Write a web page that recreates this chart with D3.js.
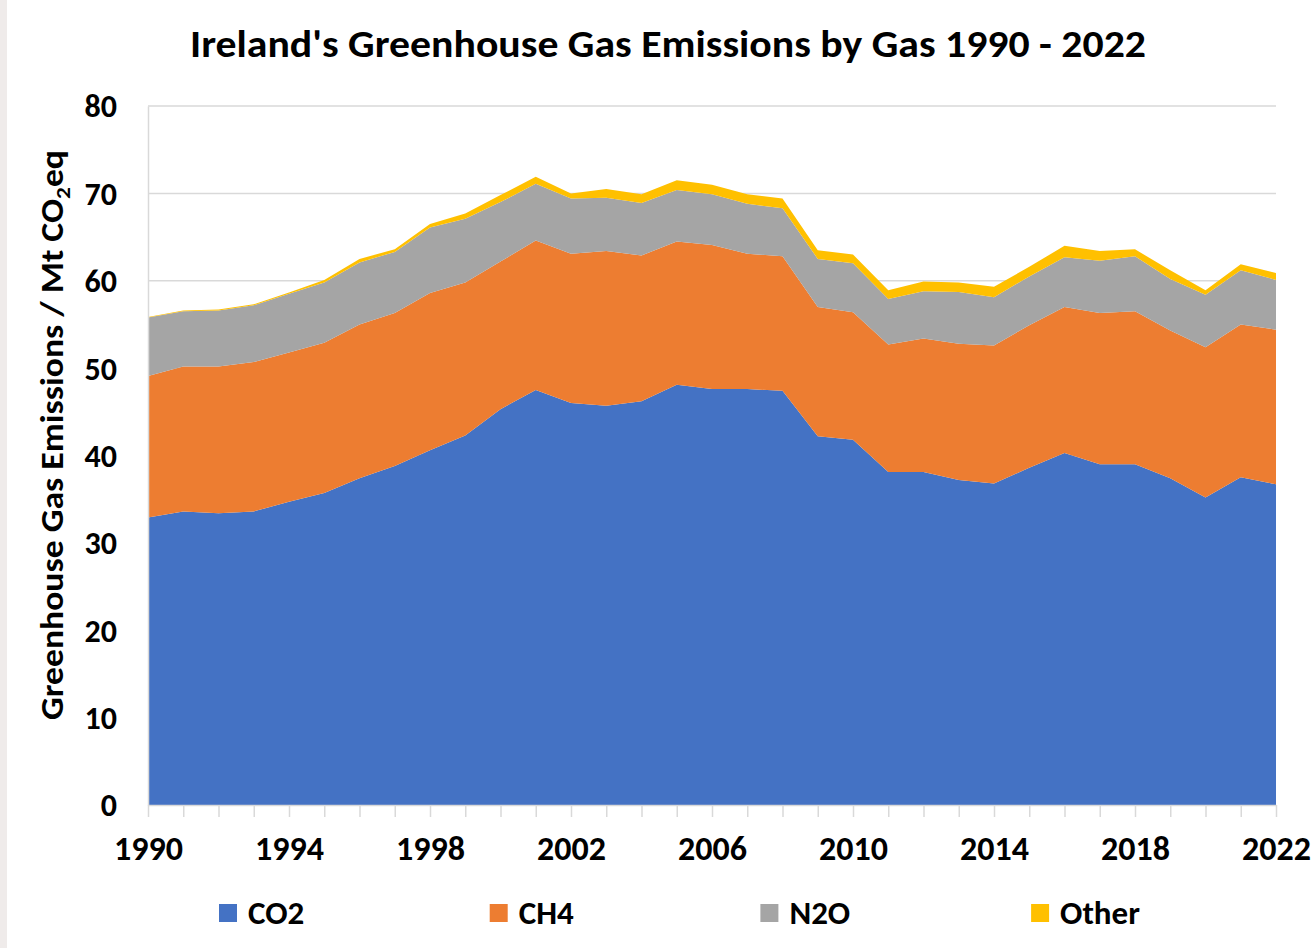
<!DOCTYPE html>
<html>
<head>
<meta charset="utf-8">
<script src="https://cdn.jsdelivr.net/npm/d3@7"></script>
<style>
  body { margin: 0; background: #fff; }
  text { font-family: Carlito, "Open Sans", sans-serif; font-weight: bold; fill: #000; }
</style>
</head>
<body>
<svg id="chart" width="1316" height="948"></svg>
<script>
// data (Mt CO2eq)
var YEARS = [1990, 1991, 1992, 1993, 1994, 1995, 1996, 1997, 1998, 1999, 2000,
    2001, 2002, 2003, 2004, 2005, 2006, 2007, 2008, 2009, 2010, 2011,
    2012, 2013, 2014, 2015, 2016, 2017, 2018, 2019, 2020, 2021, 2022];
var GASES = ["CO2", "CH4", "N2O", "Other"];
var CO2 = [32.9, 33.6, 33.4, 33.6, 34.7, 35.7, 37.4, 38.8, 40.6, 42.3, 45.3,
    47.5, 46.0, 45.7, 46.2, 48.1, 47.6, 47.6, 47.4, 42.2, 41.8, 38.1,
    38.1, 37.2, 36.8, 38.6, 40.3, 39.0, 39.0, 37.4, 35.2, 37.5, 36.7];
var CH4 = [16.2, 16.6, 16.8, 17.1, 17.1, 17.2, 17.6, 17.5, 18.0, 17.5, 16.9,
    17.1, 17.1, 17.7, 16.7, 16.4, 16.5, 15.5, 15.4, 14.8, 14.6, 14.6,
    15.3, 15.6, 15.8, 16.3, 16.7, 17.3, 17.5, 16.9, 17.2, 17.5, 17.7];
var N2O = [6.7, 6.3, 6.4, 6.5, 6.7, 6.9, 7.1, 7.0, 7.5, 7.3, 6.8,
    6.5, 6.3, 6.1, 6.0, 5.9, 5.8, 5.7, 5.5, 5.5, 5.6, 5.2,
    5.4, 5.9, 5.5, 5.6, 5.7, 6.0, 6.3, 5.9, 6.0, 6.2, 5.7];
var OTHER = [0.05, 0.1, 0.1, 0.1, 0.15, 0.3, 0.4, 0.3, 0.4, 0.6, 0.8,
    0.8, 0.6, 1.0, 1.0, 1.1, 1.1, 1.1, 1.1, 1.0, 1.0, 1.0,
    1.1, 1.1, 1.2, 1.1, 1.3, 1.1, 0.8, 1.0, 0.5, 0.7, 0.8];
var Y_TICKS = [0, 10, 20, 30, 40, 50, 60, 70, 80];
var X_LABELS = [1990, 1994, 1998, 2002, 2006, 2010, 2014, 2018, 2022];
var COLORS = ["#4472c4", "#ed7d31", "#a5a5a5", "#ffc000"];

var PLOT = { left: 148, right: 1276, top: 106, bottom: 805 };
var GRID_COLOR = "#d9d9d9";
var FONT = "Carlito, 'Open Sans', sans-serif";

var svg = d3.select("#chart");

// thin frame strip on the left edge
svg.append("rect")
    .attr("x", 0).attr("y", 0)
    .attr("width", 7).attr("height", 948)
    .attr("fill", "#efebea");

var xScale = d3.scaleLinear()
    .domain([1990, 2022])
    .range([PLOT.left, PLOT.right]);

var yScale = d3.scaleLinear()
    .domain([0, 80])
    .range([PLOT.bottom, PLOT.top]);

var rows = YEARS.map((y, i) => ({
    year: y, CO2: CO2[i], CH4: CH4[i], N2O: N2O[i], Other: OTHER[i]
}));

var series = d3.stack().keys(GASES)(rows);

// gridlines
svg.append("g")
    .selectAll("line")
    .data(Y_TICKS.filter(d => d > 0))
    .join("line")
    .attr("x1", PLOT.left)
    .attr("x2", PLOT.right)
    .attr("y1", d => yScale(d))
    .attr("y2", d => yScale(d))
    .attr("stroke", GRID_COLOR)
    .attr("stroke-width", 1.5);

var area = d3.area()
    .x(d => xScale(d.data.year))
    .y0(d => yScale(d[0]))
    .y1(d => yScale(d[1]));

svg.append("g")
    .selectAll("path")
    .data(series)
    .join("path")
    .attr("fill", (d, i) => COLORS[i])
    .attr("d", area);

// y axis
var yAxis = d3.axisLeft(yScale)
    .tickValues(Y_TICKS)
    .tickSize(0)
    .tickSizeOuter(0)
    .tickPadding(31);

var gy = svg.append("g")
    .attr("transform", `translate(${PLOT.left},0)`)
    .call(yAxis);
gy.select(".domain").attr("stroke", GRID_COLOR).attr("stroke-width", 1.5);
gy.selectAll(".tick text")
    .attr("font-size", 32)
    .attr("dy", "0.34em")
    .style("font-family", FONT)
    .style("font-weight", "bold")
    .attr("fill", "#000");

// x axis: a mark for every year, labels every fourth year
var xTicks = d3.axisBottom(xScale)
    .tickValues(YEARS)
    .tickSize(12)
    .tickSizeOuter(0)
    .tickFormat("");

var gx = svg.append("g")
    .attr("transform", `translate(0,${PLOT.bottom})`)
    .call(xTicks);
gx.select(".domain").attr("stroke", GRID_COLOR).attr("stroke-width", 1.5);
gx.selectAll(".tick line").attr("stroke", GRID_COLOR).attr("stroke-width", 1.5);

var xLabels = d3.axisBottom(xScale)
    .tickValues(X_LABELS)
    .tickSize(0)
    .tickPadding(31)
    .tickFormat(d3.format("d"));

var gxl = svg.append("g")
    .attr("transform", `translate(0,${PLOT.bottom})`)
    .call(xLabels);
gxl.select(".domain").remove();
gxl.selectAll(".tick text")
    .attr("font-size", 34)
    .style("font-family", FONT)
    .style("font-weight", "bold")
    .attr("fill", "#000");

// title
svg.append("text")
    .attr("x", 668)
    .attr("y", 57)
    .attr("text-anchor", "middle")
    .attr("font-size", 39)
    .attr("textLength", 956)
    .attr("lengthAdjust", "spacingAndGlyphs")
    .text("Ireland's Greenhouse Gas Emissions by Gas 1990 - 2022");

// y axis title with subscript
var yt = svg.append("text")
    .attr("transform", "translate(63,435) rotate(-90)")
    .attr("text-anchor", "middle")
    .attr("font-size", 32)
    .attr("textLength", 570)
    .attr("lengthAdjust", "spacingAndGlyphs");
yt.append("tspan").text("Greenhouse Gas Emissions / Mt CO");
yt.append("tspan").attr("font-size", 21).attr("dy", 7).text("2");
yt.append("tspan").attr("dy", -7).text("eq");

// legend
var legend = svg.append("g")
    .selectAll("g")
    .data(GASES)
    .join("g")
    .attr("transform", (d, i) => `translate(${219 + i * 270.7},904)`);

legend.append("rect")
    .attr("width", 18)
    .attr("height", 18)
    .attr("fill", (d, i) => COLORS[i]);

legend.append("text")
    .attr("x", 29)
    .attr("y", 9)
    .attr("dy", "0.34em")
    .attr("font-size", 33)
    .text(d => d);
</script>
</body>
</html>
